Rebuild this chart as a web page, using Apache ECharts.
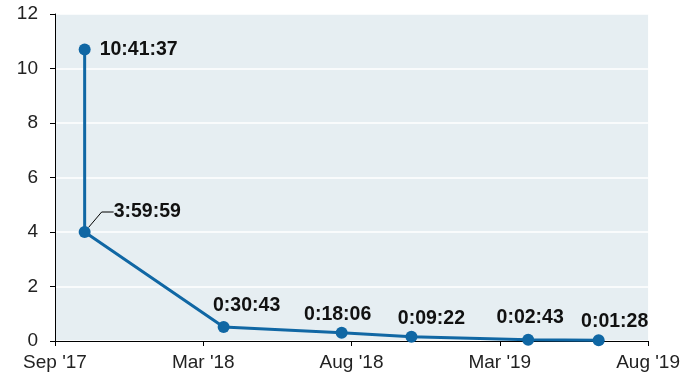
<!DOCTYPE html>
<html>
<head>
<meta charset="utf-8">
<script src="https://cdn.jsdelivr.net/npm/echarts@6/dist/echarts.min.js"></script>
<style>
html,body{margin:0;padding:0;background:#fff;}
#chart{width:683px;height:374px;}
</style>
</head>
<body>
<div id="chart"></div>
<script>
// x positions: days from the first axis tick (ticks every 150 days)
const xDays = [30, 30, 170.6, 290, 360.6, 478.7, 550];
// values in hours
const hours = [10.694, 4.0, 0.512, 0.302, 0.156, 0.045, 0.024];
const durationLabels = ['10:41:37', '3:59:59', '0:30:43', '0:18:06', '0:09:22', '0:02:43', '0:01:28'];
const xTickLabels = ["Sep '17", "Mar '18", "Aug '18", "Mar '19", "Aug '19"];
const yTicks = [0, 2, 4, 6, 8, 10, 12];

// label placement: base position, then shift (dx, dy) in pixels
const labelPos = ['right', 'right', 'inside', 'inside', 'inside', 'inside', 'inside'];
const labelShift = [[4, 0], [18, -20], [23, -21], [-4, -18], [20, -18], [2, -22], [16, -19]];

const lineColor = '#1067a4';

const seriesData = xDays.map((x, i) => ({
  value: [x, hours[i]],
  label: {position: labelPos[i], distance: 5},
  labelLine: {show: i === 1}
}));

const chart = echarts.init(document.getElementById('chart'), null, {renderer: 'canvas'});
chart.setOption({
  animation: false,
  backgroundColor: '#ffffff',
  grid: {
    left: 55, right: 32, top: 14, bottom: 33,
    show: true, backgroundColor: '#e6eef2', borderWidth: 0
  },
  xAxis: {
    type: 'value', min: 0, max: 600, interval: 150,
    axisLine: {show: true, lineStyle: {color: '#000', width: 1}},
    axisTick: {show: true, length: 5, lineStyle: {color: '#000'}},
    splitLine: {show: false},
    axisLabel: {
      margin: 12, color: '#222', fontSize: 19, fontFamily: 'Liberation Sans, Arial, sans-serif',
      formatter: v => xTickLabels[Math.round(v / 150)]
    }
  },
  yAxis: {
    type: 'value', min: yTicks[0], max: yTicks[yTicks.length - 1], interval: 2,
    axisLine: {show: true, lineStyle: {color: '#000', width: 1}},
    axisTick: {show: true, length: 5, lineStyle: {color: '#000'}},
    splitLine: {show: true, lineStyle: {color: '#ffffff', width: 1.5}},
    axisLabel: {margin: 17, color: '#222', fontSize: 19, fontFamily: 'Liberation Sans, Arial, sans-serif'}
  },
  series: [{
    type: 'line',
    data: seriesData,
    symbol: 'circle',
    symbolSize: 12,
    lineStyle: {color: lineColor, width: 3},
    itemStyle: {color: lineColor},
    label: {
      show: true,
      formatter: p => durationLabels[p.dataIndex],
      color: '#111',
      fontSize: 19.5,
      fontWeight: 'bold',
      fontFamily: 'Liberation Sans, Arial, sans-serif'
    },
    labelLayout: p => ({dx: labelShift[p.dataIndex][0], dy: labelShift[p.dataIndex][1]}),
    labelLine: {show: false, length2: 12, lineStyle: {color: '#000', width: 1}}
  }]
});
</script>
</body>
</html>
